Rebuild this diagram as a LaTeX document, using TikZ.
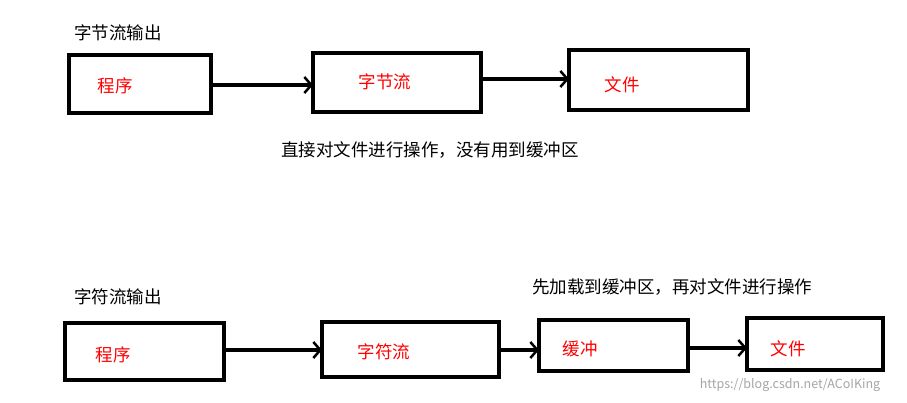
\documentclass[tikz,border=0pt]{standalone}
\usepackage{fontspec}
\setmainfont{Noto Sans CJK SC}
\usetikzlibrary{arrows.meta}
\begin{document}
\begin{tikzpicture}[x=1pt,y=-1pt,
  bx/.style={draw=black,line width=3.5pt},
  lab/.style={text=red,font=\fontsize{17.5}{17.5}\selectfont},
  txt/.style={text=black,font=\fontsize{17.5}{17.5}\selectfont},
  arr/.style={line width=3.5pt,-{Straight Barb[length=7pt,width=16pt,line width=2.5pt]}}]
\useasboundingbox (0,0) rectangle (907,403);
\fill[white] (0,0) rectangle (907,403);
% top
\node[txt] (t1) at (118,33) {字节流输出};
\draw[bx] (69,55) rectangle (211,113); \coordinate (a1) at (211,85);
\node[lab] (n1) at (115,86) {程序};
\draw[bx] (313,53) rectangle (481,112); \coordinate (a2) at (313,85); \coordinate (a3) at (481,79);
\node[lab] (n2) at (385,82) {字节流};
\draw[bx] (569,50) rectangle (748,110); \coordinate (a4) at (569,79);
\node[lab] (n3) at (622,85) {文件};
\draw[arr] (a1) -- (a2);
\draw[arr] (a3) -- (a4);
\node[txt] (d1) at (430,150) {直接对文件进行操作，没有用到缓冲区};
% bottom
\node[txt] (t2) at (118,297) {字符流输出};
\node[txt] (d2) at (672,287) {先加载到缓冲区，再对文件进行操作};
\draw[bx] (65,323) rectangle (224,380); \coordinate (b1) at (224,350);
\node[lab] (m1) at (113,355) {程序};
\draw[bx] (322,322) rectangle (499,377); \coordinate (b2) at (322,350); \coordinate (b3) at (499,350);
\node[lab] (m2) at (384,352) {字符流};
\draw[bx] (539,320) rectangle (688,371); \coordinate (b4) at (539,350); \coordinate (b5) at (688,348);
\node[lab] (m3) at (580,349) {缓冲};
\draw[bx] (747,318) rectangle (883,370); \coordinate (b6) at (747,348);
\node[lab] (m4) at (788,349) {文件};
\draw[arr] (b1) -- (b2);
\draw[arr] (b3) -- (b4);
\draw[arr] (b5) -- (b6);
\node[text=gray!70,font=\fontsize{12.5}{12.5}\selectfont] (w) at (790,385) {https://blog.csdn.net/ACoIKing};
\end{tikzpicture}
\end{document}
